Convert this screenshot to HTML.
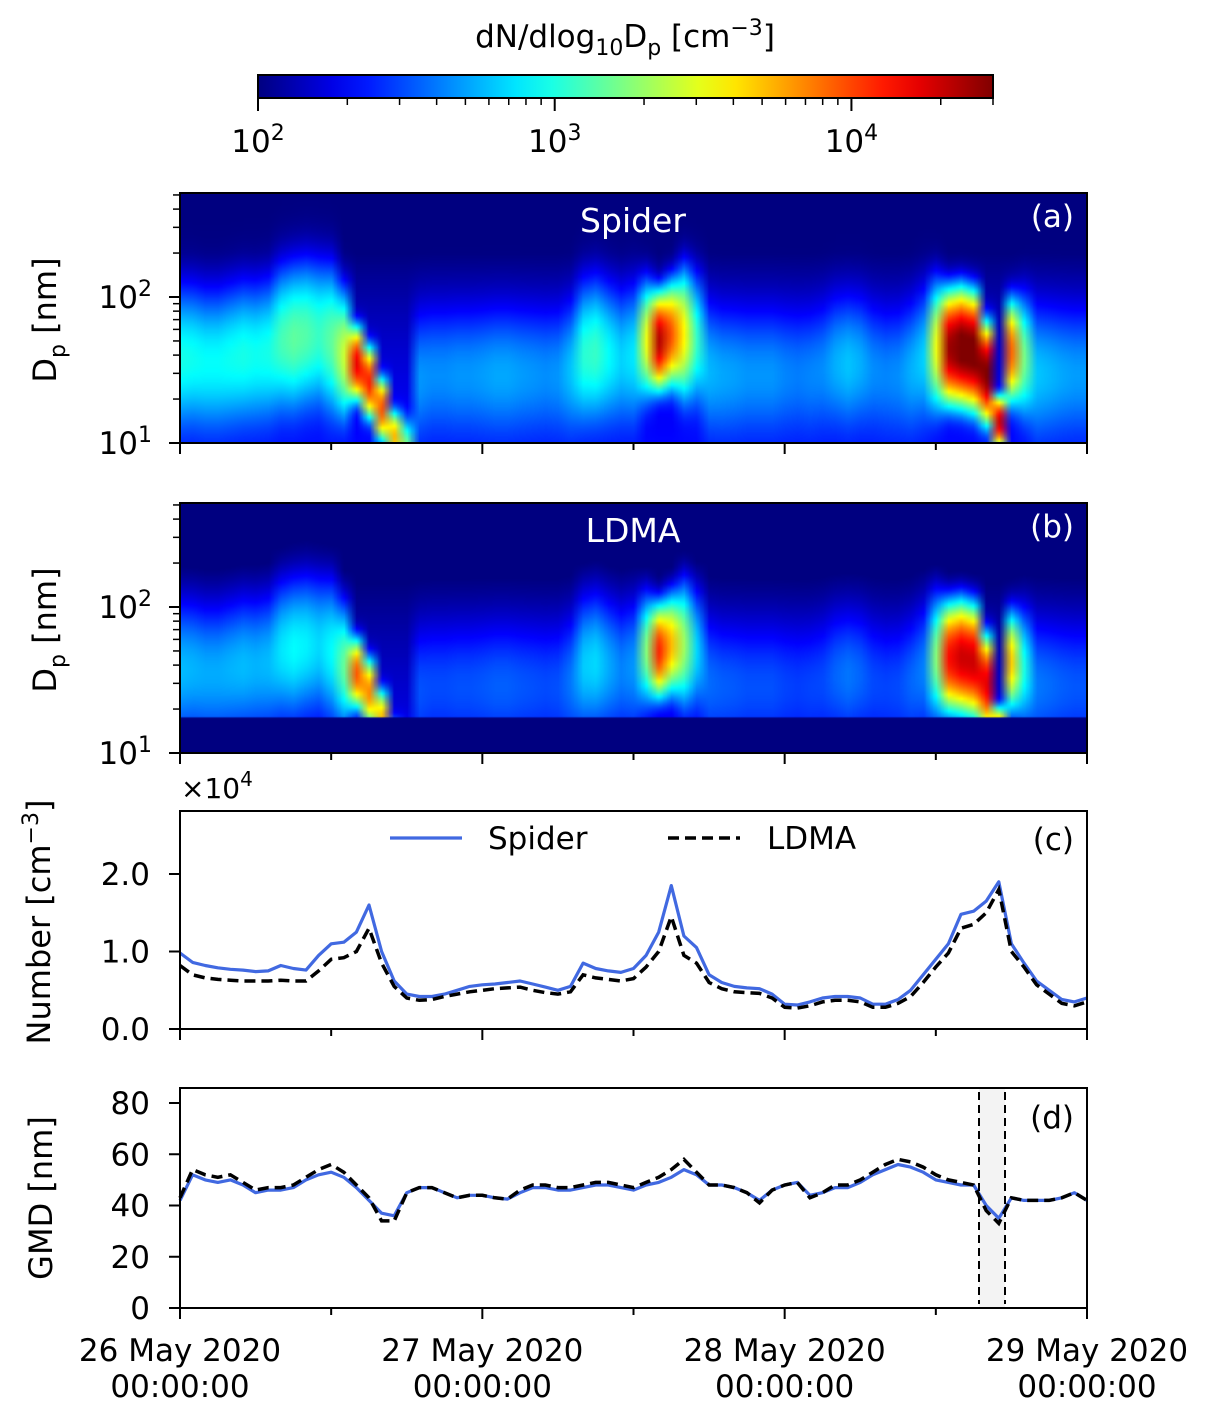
<!DOCTYPE html>
<html><head><meta charset="utf-8"><style>
html,body{margin:0;padding:0;background:#fff;}
#wrap{position:relative;width:1209px;height:1415px;overflow:hidden;}
svg{position:absolute;left:0;top:0;}
canvas{position:absolute;}
text{font-family:"DejaVu Sans","Liberation Sans",sans-serif;}
</style></head><body>
<div id="wrap">
<canvas id="hmA" width="907" height="250" style="left:180px;top:193px"></canvas>
<canvas id="hmB" width="907" height="250" style="left:180px;top:503px"></canvas>
<svg id="svg" width="1209" height="1415" xmlns="http://www.w3.org/2000/svg"></svg>
</div>
<script>
// ---- data (hourly, 26 May 00:00 .. 29 May 00:00) ----
const hours = Array.from({length:73},(_,i)=>i);
const spiderNumber = [0.98,0.86,0.82,0.79,0.77,0.76,0.74,0.75,0.82,0.78,0.76,0.95,1.1,1.12,1.25,1.6,1.0,0.62,0.45,0.42,0.42,0.45,0.5,0.55,0.57,0.58,0.6,0.62,0.58,0.54,0.5,0.55,0.85,0.78,0.75,0.73,0.78,0.95,1.25,1.85,1.2,1.05,0.7,0.6,0.55,0.53,0.52,0.45,0.32,0.31,0.35,0.4,0.42,0.42,0.4,0.32,0.32,0.38,0.5,0.7,0.9,1.1,1.48,1.52,1.65,1.9,1.1,0.85,0.62,0.5,0.38,0.35,0.4];
const ldmaNumber = [0.82,0.7,0.66,0.64,0.63,0.62,0.62,0.62,0.63,0.62,0.62,0.75,0.9,0.92,1.0,1.3,0.85,0.55,0.4,0.37,0.38,0.42,0.45,0.48,0.5,0.52,0.53,0.54,0.5,0.47,0.45,0.48,0.7,0.66,0.64,0.62,0.65,0.8,1.0,1.45,0.95,0.85,0.6,0.52,0.48,0.47,0.46,0.4,0.28,0.27,0.3,0.35,0.37,0.37,0.35,0.28,0.28,0.33,0.42,0.6,0.8,0.98,1.3,1.35,1.5,1.8,1.0,0.8,0.57,0.45,0.33,0.3,0.35];
const spiderGMD = [42,52,50,49,50,48,45,46,46,47,50,52,53,51,47,42,37,36,45,47,47,45,43,44,44,43,42.5,45,47,47,46,46,47,48,48,47,46,48,49,51,54,52,48,48,47,45,42,46,48,49,44,45,47,47,49,52,54,56,55,53,50,49,48,48,40,35,43,42,42,42,43,45,42];
const ldmaGMD = [43,54,52,51,52,49,46,47,47,48,51,54,56,53,48,43,34,34,45,47,47,45,43,44,44,43,42.5,46,48,48,47,47,48,49,49,48,47,49,51,54,58,53,48,48,47,45,41,46,48,49,43,45,48,48,50,53,56,58,57,55,52,50,49,48,38,33,43,42,42,42,43,45,42];
// size-distribution mode parameters (Spider)
const modeDiameter = [38,38,36,36,38,40,40,42,50,52,55,55,50,40,35,26,17,11,9,28,30,30,30,30,30,30,30,30,30,30,30,32,40,42,40,38,40,50,50,55,55,50,32,30,30,30,30,30,30,30,30,32,35,35,35,32,30,30,32,38,45,45,45,42,30,14,42,38,30,30,30,30,30];
const modeAmplitude = [800,750,700,700,750,800,750,800,1100,1300,1200,1000,1300,2500,16000,12000,9000,5000,1500,300,280,280,300,300,320,350,350,320,300,280,300,450,900,1000,700,500,600,3000,22000,9000,3500,1000,400,350,330,300,300,300,260,240,260,280,380,450,380,280,260,280,380,500,3000,25000,35000,35000,30000,18000,8000,1500,450,400,350,320,320];
const modeWidth = [0.25,0.25,0.25,0.25,0.25,0.25,0.25,0.25,0.25,0.25,0.25,0.25,0.25,0.2,0.1,0.1,0.09,0.08,0.1,0.25,0.25,0.25,0.25,0.25,0.25,0.25,0.25,0.25,0.25,0.25,0.25,0.25,0.25,0.25,0.25,0.25,0.25,0.18,0.13,0.15,0.2,0.22,0.25,0.25,0.25,0.25,0.25,0.25,0.25,0.25,0.25,0.25,0.25,0.25,0.25,0.25,0.25,0.25,0.25,0.25,0.2,0.15,0.15,0.15,0.13,0.07,0.15,0.2,0.25,0.25,0.25,0.25,0.25];
const ldmaFactor = 0.55;
const ldmaCutoff = 17.4;
const xTickLabels = ["26 May 2020","27 May 2020","28 May 2020","29 May 2020"];
const numberTicks = [0,1,2];
const gmdTicks = [0,20,40,60,80];
const cbarMin = 100, cbarMax = 30000;

// ---- axes ----
const X0=180, X1=1087;
const xs = t => X0 + t*(X1-X0)/72;
const yLogA = d => 443 - (Math.log10(d)-1)*146;
const yLogB = d => 753 - (Math.log10(d)-1)*146;
const yNum = v => 1029 - v*77.5;
const yGmd = g => 1308 - g*2.5625;
const cbX = v => 258 + (Math.log10(v)-2)/(Math.log10(cbarMax)-2)*(993-258);
const FS=31, SS=22;

function jet(x){x=Math.max(0,Math.min(1,x));const c=v=>Math.round(255*Math.max(0,Math.min(1,v)));
 return [c(1.5-Math.abs(4*x-3)),c(1.5-Math.abs(4*x-2)),c(1.5-Math.abs(4*x-1))];}
function norm(v){return (Math.log10(Math.max(v,cbarMin))-2)/(Math.log10(cbarMax)-2);}

const NS="http://www.w3.org/2000/svg";
const svg=document.getElementById('svg');
function el(tag,attrs,parent){const e=document.createElementNS(NS,tag);for(const k in attrs)e.setAttribute(k,attrs[k]);(parent||svg).appendChild(e);return e;}

// ---- heatmaps ----
const ROWS=140, DMAXLOG=2.712;
function drawHeat(id,isLdma,yTop){
 const off=document.createElement('canvas');off.width=hours.length;off.height=ROWS;
 const c=off.getContext('2d');
 for(let i=0;i<hours.length;i++){
  for(let j=0;j<ROWS;j++){
   const ld=DMAXLOG-(j+0.5)*(DMAXLOG-1)/ROWS;
   const d=Math.pow(10,ld);
   const bg=100+110*Math.max(0,Math.min(1,(2.3-ld)/1.3));
   let v=bg+modeAmplitude[i]*Math.exp(-Math.pow(ld-Math.log10(modeDiameter[i]),2)/(2*modeWidth[i]*modeWidth[i]));
   if(isLdma){v=bg*0.9+(v-bg)*ldmaFactor; if(d<ldmaCutoff)v=100;}
   const col=jet(norm(v));
   c.fillStyle=`rgb(${col[0]},${col[1]},${col[2]})`;
   c.fillRect(i,j,1,1);
  }
 }
 const cv=document.getElementById(id);const g=cv.getContext('2d');
 g.imageSmoothingEnabled=true;
 const pxh=(X1-X0)/72;
 g.drawImage(off,0,0,off.width,off.height,-0.5*pxh,0,off.width*pxh,250);
 if(isLdma){
  const yc=yLogB(ldmaCutoff)-yTop; const col=jet(0);
  g.fillStyle=`rgb(${col[0]},${col[1]},${col[2]})`; g.fillRect(0,yc,907,250-yc);
 }
}
drawHeat('hmA',false,193);
drawHeat('hmB',true,503);

// ---- colorbar ----
const defs=el('defs',{});
const grad=el('linearGradient',{id:'jetg',x1:'0',x2:'1',y1:'0',y2:'0'},defs);
for(let k=0;k<=20;k++){const col=jet(k/20);el('stop',{offset:(k/20),'stop-color':`rgb(${col})`},grad);}
const cbar=el('rect',{x:258,y:75,width:735,height:23,fill:'url(#jetg)',stroke:'#000','stroke-width':2});

for(let e=2;e<=4;e++){for(let m=1;m<=9;m++){const v=m*Math.pow(10,e);if(v>cbarMax)break;
 el('line',{x1:cbX(v),x2:cbX(v),y1:98,y2:m===1?111:105,stroke:'#000','stroke-width':m===1?2:1.5});}}
[2,3,4].forEach(e=>{const t=el('text',{x:cbX(Math.pow(10,e)),y:152,'font-size':FS,'text-anchor':'middle'});
 
 t.innerHTML=`10<tspan dy="-12" font-size="${SS}">${e}</tspan>`;});
const cbt=el('text',{x:625,y:47,'font-size':FS,'text-anchor':'middle'});

cbt.innerHTML=`dN/dlog<tspan dy="8" font-size="${SS}">10</tspan><tspan dy="-8">D</tspan><tspan dy="8" font-size="${SS}">p</tspan><tspan dy="-8"> [cm</tspan><tspan dy="-12" font-size="${SS}">−3</tspan><tspan dy="12">]</tspan>`;

// ---- generic axis helpers ----
function xTicks(yBottom,withLabels){
 for(let h=0;h<=72;h+=12){const maj=h%24===0;
  el('line',{x1:xs(h),x2:xs(h),y1:yBottom,y2:yBottom+(maj?11:7),stroke:'#000','stroke-width':2});}
 if(withLabels){xTickLabels.forEach((s,k)=>{
  const t=el('text',{x:xs(k*24),y:1361,'font-size':FS,'text-anchor':'middle'});t.textContent=s;
  
  const t2=el('text',{x:xs(k*24),y:1397,'font-size':FS,'text-anchor':'middle'});t2.textContent='00:00:00';
  });}
}
function frame(y0,y1,name){const r=el('rect',{x:X0,y:y0,width:X1-X0,height:y1-y0,fill:'none',stroke:'#000','stroke-width':2});
 }
function logYAxis(yf){
 for(let e=1;e<=2;e++){for(let m=1;m<=9;m++){const d=m*Math.pow(10,e);if(Math.log10(d)>DMAXLOG)break;
  el('line',{x1:X0,x2:X0-(m===1?11:7),y1:yf(d),y2:yf(d),stroke:'#000','stroke-width':m===1?2:1.5});}}
 [1,2].forEach(e=>{const t=el('text',{x:152,y:yf(Math.pow(10,e))+11,'font-size':FS,'text-anchor':'end'});
  
  t.innerHTML=`10<tspan dy="-12" font-size="${SS}">${e}</tspan>`;});
}
function yLabel(cx,cy,html,name){const t=el('text',{x:cx,y:cy,'font-size':FS+1,'text-anchor':'middle',transform:`rotate(-90 ${cx} ${cy})`});
 t.innerHTML=html;}
function inText(x,y,s,name,anchor,fill,fs){const t=el('text',{x:x,y:y,'font-size':fs||FS,'text-anchor':anchor||'middle',fill:fill||'#000'});
 t.textContent=s;}

// panel a
frame(193,443,'panel-a-frame');logYAxis(yLogA);xTicks(443,false);
yLabel(56,320,`D<tspan dy="9" font-size="${SS}">p</tspan><tspan dy="-9"> [nm]</tspan>`,'panel-a-y-axis-title');
inText(633,232,'Spider','panel-a-title','middle','#fff',33);inText(1074,227,'(a)','panel-a-label','end','#fff');
// panel b
frame(503,753,'panel-b-frame');logYAxis(yLogB);xTicks(753,false);
yLabel(56,630,`D<tspan dy="9" font-size="${SS}">p</tspan><tspan dy="-9"> [nm]</tspan>`,'panel-b-y-axis-title');
inText(633,542,'LDMA','panel-b-title','middle','#fff',33);inText(1074,537,'(b)','panel-b-label','end','#fff');

// panel c
numberTicks.forEach(v=>{el('line',{x1:X0,x2:X0-11,y1:yNum(v),y2:yNum(v),stroke:'#000','stroke-width':2});
 const t=el('text',{x:150,y:yNum(v)+11,'font-size':FS,'text-anchor':'end'});t.textContent=v.toFixed(1);
 });
const mult=el('text',{x:181,y:798,'font-size':28});mult.innerHTML='×10<tspan dy="-12" font-size="20">4</tspan>';

yLabel(50,922,`Number [cm<tspan dy="-12" font-size="${SS}">−3</tspan><tspan dy="12">]</tspan>`,'number-y-axis-title');
function path(arr,yf){return arr.map((v,i)=>(i?'L':'M')+xs(hours[i]).toFixed(1)+' '+yf(v).toFixed(1)).join(' ');}
const pns=el('path',{d:path(spiderNumber,yNum),fill:'none',stroke:'#4169e1','stroke-width':3.2,'stroke-linejoin':'round'});

const pnl=el('path',{d:path(ldmaNumber,yNum),fill:'none',stroke:'#000','stroke-width':3.5,'stroke-dasharray':'11 6'});

frame(811,1029,'panel-c-frame');xTicks(1029,false);
const lg=el('g',{});
el('line',{x1:390,x2:462,y1:838,y2:838,stroke:'#4169e1','stroke-width':3.2},lg);
const l1=el('text',{x:488,y:849,'font-size':FS},lg);l1.textContent='Spider';

el('line',{x1:668,x2:740,y1:838,y2:838,stroke:'#000','stroke-width':3.5,'stroke-dasharray':'11 6'},lg);
const l2=el('text',{x:767,y:849,'font-size':FS},lg);l2.textContent='LDMA';

inText(1074,850,'(c)','panel-c-label','end');

// panel d
const shade=el('rect',{x:979,y:1088,width:26,height:220,fill:'#f3f3f3'});

gmdTicks.forEach(v=>{el('line',{x1:X0,x2:X0-11,y1:yGmd(v),y2:yGmd(v),stroke:'#000','stroke-width':2});
 const t=el('text',{x:150,y:yGmd(v)+11,'font-size':FS,'text-anchor':'end'});t.textContent=v;
 });
yLabel(52,1198,'GMD [nm]','gmd-y-axis-title');
const pgs=el('path',{d:path(spiderGMD,yGmd),fill:'none',stroke:'#4169e1','stroke-width':3.2,'stroke-linejoin':'round'});

const pgl=el('path',{d:path(ldmaGMD,yGmd),fill:'none',stroke:'#000','stroke-width':3.5,'stroke-dasharray':'11 6'});

[979,1005].forEach(x=>{const l=el('line',{x1:x,x2:x,y1:1092,y2:1304,stroke:'#000','stroke-width':2,'stroke-dasharray':'8 5'});
 });
frame(1088,1308,'panel-d-frame');xTicks(1308,true);
inText(1074,1128,'(d)','panel-d-label','end');
</script>
</body></html>
